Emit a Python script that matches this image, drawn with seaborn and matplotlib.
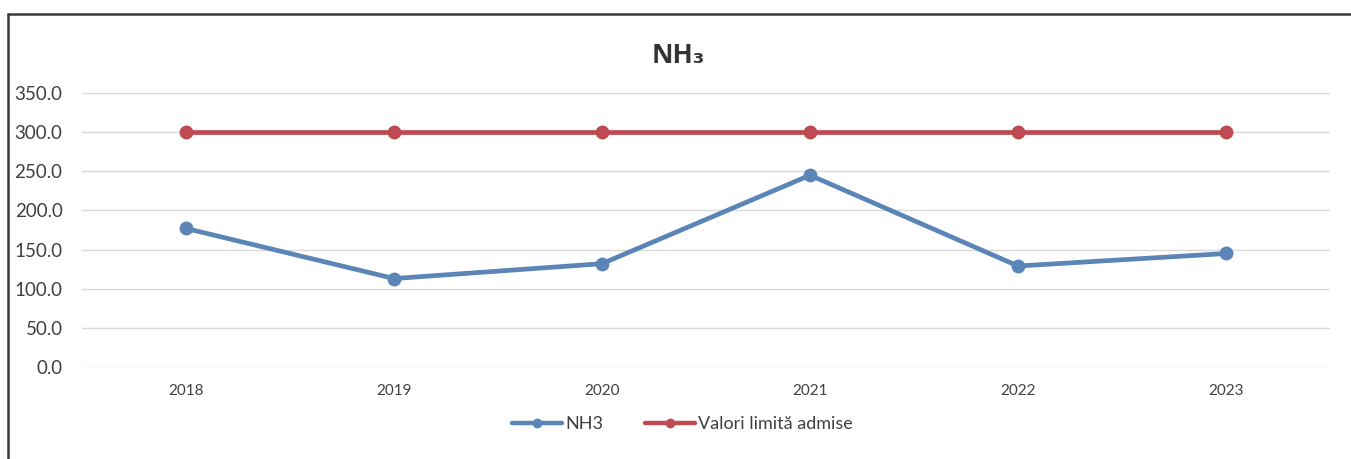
import matplotlib
matplotlib.use("Agg")
import matplotlib.pyplot as plt
from matplotlib.lines import Line2D
import pandas as pd
import seaborn as sns

# date
YEARS = ["2018", "2019", "2020", "2021", "2022", "2023"]
NH3_VALUES = [177, 113, 132, 245, 129, 145]
LIMIT_VALUES = [300, 300, 300, 300, 300, 300]
SERIES_NAMES = ["NH3", "Valori limită admise"]
Y_TICKS = [0, 50, 100, 150, 200, 250, 300, 350]

COLORS = {"NH3": "#5a85b6", "Valori limită admise": "#bf4b52"}

data = pd.DataFrame({
    "An": YEARS * 2,
    "Valoare": NH3_VALUES + LIMIT_VALUES,
    "Serie": [SERIES_NAMES[0]] * len(YEARS) + [SERIES_NAMES[1]] * len(YEARS),
})

sns.set_theme(style="white")
plt.rcParams["font.family"] = ["Lato", "DejaVu Sans"]

fig = plt.figure(figsize=(13.51, 4.59), dpi=100)
ax = fig.add_axes([0.0607, 0.2004, 0.9238, 0.597])

sns.lineplot(data=data, x="An", y="Valoare", hue="Serie", palette=COLORS,
             marker="o", markersize=10, markeredgewidth=0, linewidth=3.4,
             sort=False, legend=False, ax=ax)

ax.set_xlim(-0.5, len(YEARS) - 0.5)
ax.set_ylim(0, 350)
ax.set_yticks(Y_TICKS)
ax.set_yticklabels([f"{v:.1f}" for v in Y_TICKS], fontsize=13.5, color="#404040")
ax.tick_params(axis="y", length=0, pad=14)
ax.tick_params(axis="x", length=0, pad=12, labelsize=11, labelcolor="#404040")
ax.yaxis.grid(True, color="#d9d9d9", linewidth=1)
ax.set_axisbelow(True)
for s in ax.spines.values():
    s.set_visible(False)
ax.set_xlabel("")
ax.set_ylabel("")

fig.text(0.502, 0.878, "NH₃", ha="center", va="center", fontsize=19,
         fontweight="bold", color="#333333", family=["Open Sans", "DejaVu Sans"])

handles = [Line2D([0], [0], color=COLORS[n], linewidth=3.2, marker="o",
                  markersize=7, markeredgewidth=0) for n in SERIES_NAMES]
fig.legend(handles, SERIES_NAMES, loc="center", bbox_to_anchor=(0.505, 0.076),
           ncol=2, frameon=False, fontsize=13, handlelength=2.8,
           handletextpad=0.15, columnspacing=2.3, labelcolor="#404040")

# chenarul scanat
fig.add_artist(Line2D([0.006, 1.0], [0.969, 0.969], color="#3a3a3a", linewidth=1.8))
fig.add_artist(Line2D([0.006, 0.006], [0.0, 0.969], color="#3a3a3a", linewidth=1.8))

fig.savefig("out.png", dpi=100, facecolor="white")
